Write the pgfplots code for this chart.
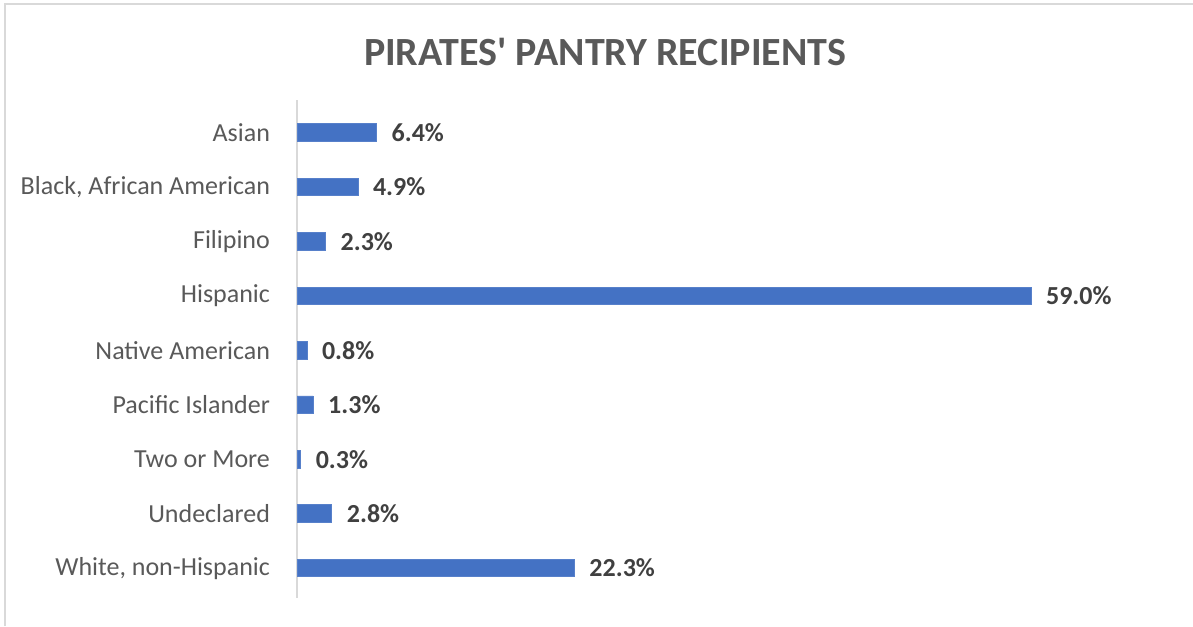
\documentclass[border=0pt]{standalone}
\usepackage{pgfplots}
\pgfplotsset{compat=1.18}
\usepackage{fontspec}
\setmainfont{Carlito}
\definecolor{barblue}{HTML}{4472C4}
\definecolor{txtgray}{HTML}{595959}
\definecolor{valgray}{HTML}{404040}
\definecolor{framegray}{HTML}{D9D9D9}
\begin{document}
\begin{tikzpicture}
% page frame: 1193 x 626 px at 0.5pt per px
\path[use as bounding box] (0,0) rectangle (596.5pt,313pt);
\draw[framegray, line width=1pt] (2.3pt,0) -- (2.3pt,311pt) -- (596.5pt,311pt);
\node[font=\fontsize{20}{22}\selectfont\bfseries, text=txtgray] at (302.5pt,287pt) {PIRATES\textquotesingle{} PANTRY RECIPIENTS};
\begin{axis}[
    at={(148.5pt,14pt)}, anchor=south west,
    scale only axis,
    width=367pt, height=249pt,
    xbar, bar width=8.8pt,
    /pgf/bar shift={0pt},
    xmin=0, xmax=59,
    ymin=-0.6, ymax=8.55,
    y dir=reverse,
    axis x line=none,
    axis y line*=left,
    y axis line style={framegray, line width=0.8pt},
    ytick={0,...,8},
    yticklabels={Asian,{Black, African American},Filipino,Hispanic,Native American,Pacific Islander,Two or More,Undeclared,{White, non-Hispanic}},
    major tick length=0pt,
    yticklabel style={font=\fontsize{13}{15}\selectfont, text=txtgray, xshift=-10pt},
    nodes near coords={\pgfmathprintnumber[fixed,fixed zerofill,precision=1,assume math mode=true]{\pgfplotspointmeta}\%},
    nodes near coords align={horizontal},
    every node near coord/.append style={font=\fontsize{13}{15}\selectfont\bfseries, text=valgray, xshift=4pt},
    clip=false,
]
\addplot[draw=barblue!90!white, fill=barblue] coordinates {
    (6.4,0)
    (4.9,1)
    (2.3,2)
    (59.0,3)
    (0.8,4)
    (1.3,5)
    (0.3,6)
    (2.8,7)
    (22.3,8)
};
\end{axis}
\end{tikzpicture}
\end{document}
